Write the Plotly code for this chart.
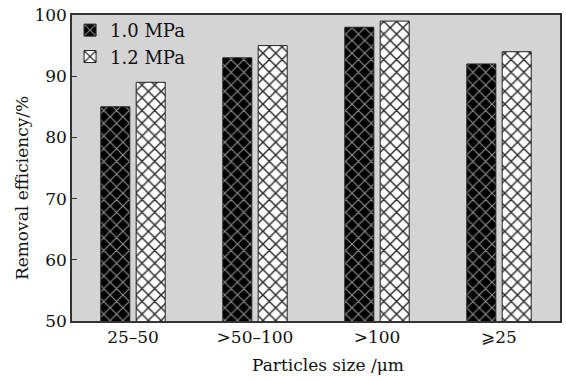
import plotly.graph_objects as go

categories = ["25–50", ">50–100", ">100", "⩾25"]
series_names = ["1.0 MPa", "1.2 MPa"]
values_10 = [85, 93, 98, 92]
values_12 = [89, 95, 99, 94]
y_ticks = [50, 60, 70, 80, 90, 100]

FONT = "DejaVu Serif"

fig = go.Figure()
fig.add_trace(go.Bar(
    x=categories, y=values_10, name=series_names[0],
    marker=dict(color="black", line=dict(color="#222", width=1),
                pattern=dict(shape="x", fgcolor="#8c8c8c", bgcolor="black",
                             size=9, solidity=0.25, fillmode="replace")),
))
fig.add_trace(go.Bar(
    x=categories, y=values_12, name=series_names[1],
    marker=dict(color="white", line=dict(color="#222", width=1),
                pattern=dict(shape="x", fgcolor="#2a2a2a", bgcolor="white",
                             size=9, solidity=0.3, fillmode="replace")),
))

fig.update_layout(
    width=566, height=381,
    margin=dict(l=72, r=4, t=15, b=60),
    paper_bgcolor="white", plot_bgcolor="#d4d4d4",
    barmode="group", bargap=0.42, bargroupgap=0.18,
    font=dict(family=FONT, size=17, color="#111"),
    showlegend=True,
    legend=dict(x=-0.004, y=1.01, xanchor="left", yanchor="top",
                bgcolor="rgba(0,0,0,0)", font=dict(family=FONT, size=18),
                itemwidth=30, tracegroupgap=2),
    xaxis=dict(showline=True, linecolor="#333", linewidth=1.5, mirror=True,
               ticks="", tickfont=dict(family=FONT, size=17)),
    yaxis=dict(range=[50, 100], tickvals=y_ticks, showline=True, linecolor="#333",
               linewidth=1.5, mirror=True, ticks="inside", ticklen=5, tickcolor="#333",
               showgrid=False, tickfont=dict(family=FONT, size=17)),
    annotations=[
        dict(text="Particles size /μm", xref="paper", yref="paper", x=0.524, y=-0.145,
             xanchor="center", yanchor="middle", showarrow=False,
             font=dict(family=FONT, size=17)),
        dict(text="Removal efficiency/%", xref="paper", yref="paper", x=-0.102, y=0.435,
             xanchor="center", yanchor="middle", showarrow=False, textangle=-90,
             font=dict(family=FONT, size=17)),
    ],
)

fig.write_html("out.html")
